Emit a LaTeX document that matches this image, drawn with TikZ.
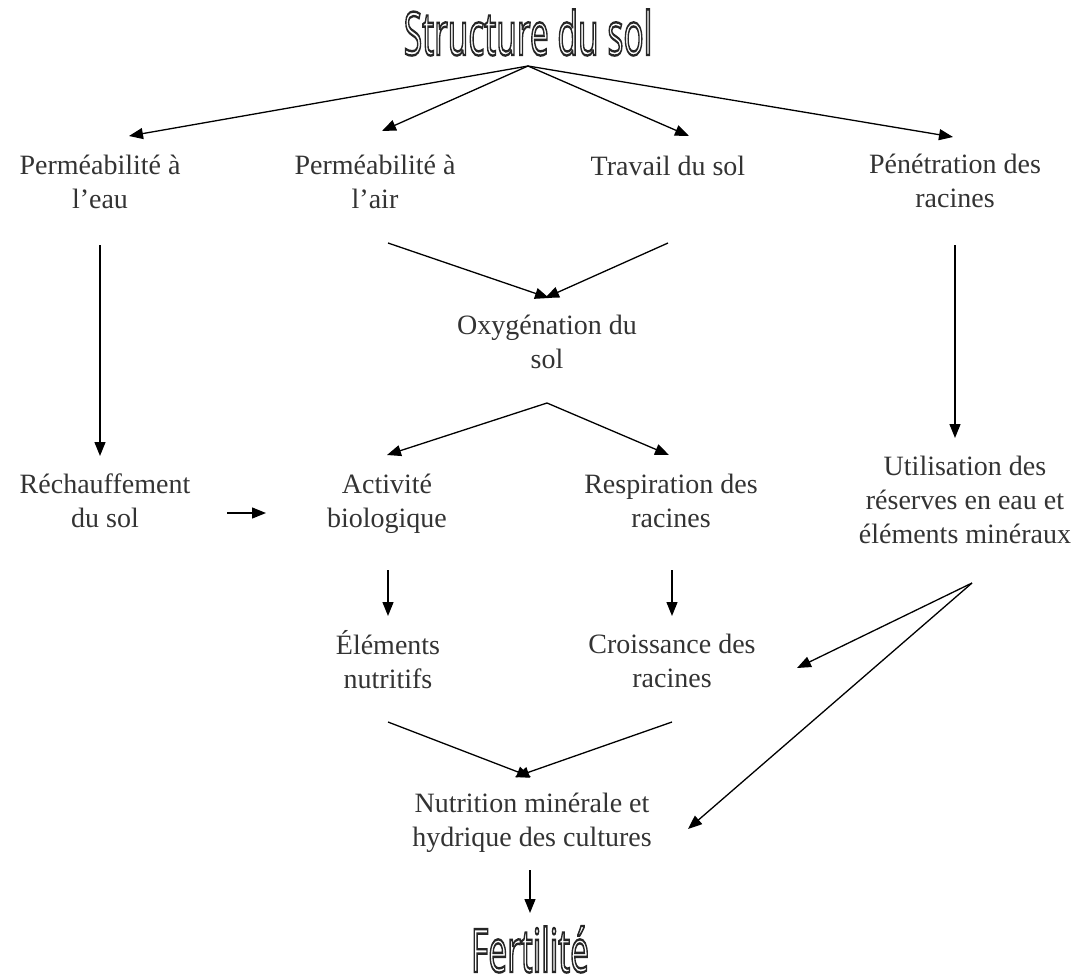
\documentclass[tikz,border=0pt]{standalone}
\usepackage{fontspec}
\setmainfont{Liberation Serif}
\newfontfamily\titlefont{Open Sans}
\usetikzlibrary{arrows.meta}
\definecolor{txt}{RGB}{51,51,51}
\newcommand{\hollowtext}[1]{\special{pdf:literal direct 2.4 w 1 Tr}#1\special{pdf:literal direct 0 Tr}}
\tikzset{
  lbl/.style={align=center, inner sep=0pt, text=txt, font=\fontsize{28}{34}\selectfont},
  ttl/.style={inner sep=0pt, anchor=base, text=black!85, font=\titlefont\fontsize{60}{66}\selectfont},
  arr/.style={line width=1.3pt, -{Triangle[length=14pt,width=11pt]}, shorten >=0pt}
}
\begin{document}
\begin{tikzpicture}[x=1pt,y=-1pt]
\useasboundingbox (0,0) rectangle (1082,980);
% nodes
\node[ttl] (title) at (528,55) {\scalebox{0.56}[1]{\hollowtext{Structure du sol}}};
\node[lbl] (eau) at (100,182) {Perméabilité à\\l’eau};
\node[lbl] (air) at (375,182) {Perméabilité à\\l’air};
\node[lbl,anchor=base] (trav) at (668,175) {Travail du sol};
\node[lbl] (pen) at (955,181) {Pénétration des\\racines};
\node[lbl] (oxy) at (547,342) {Oxygénation du\\sol};
\node[lbl] (rech) at (105,501) {Réchauffement\\du sol};
\node[lbl] (act) at (387,504) {Activité\\biologique};
\node[lbl] (resp) at (671,501) {Respiration des\\racines};
\node[lbl] (util) at (965,500) {Utilisation des\\réserves en eau et\\éléments minéraux};
\node[lbl] (elem) at (388,660) {Éléments\\nutritifs};
\node[lbl] (crois) at (672,661) {Croissance des\\racines};
\node[lbl] (nutri) at (532,823) {Nutrition minérale et\\hydrique des cultures};
\node[ttl] (fert) at (530,972) {\scalebox{0.56}[1]{\hollowtext{Fertilité}}};
% connector end points
\coordinate (tA) at (528,66);
\coordinate (eauT) at (129,136);
\coordinate (airT) at (382,131);
\coordinate (travT) at (689,136);
\coordinate (penT) at (953,137);
\coordinate (eauB) at (100,245);
\coordinate (rechT) at (100,456);
\coordinate (airB) at (388,243);
\coordinate (travB) at (668,243);
\coordinate (oxyL) at (549,298);
\coordinate (oxyR) at (545,298);
\coordinate (penB) at (955,245);
\coordinate (utilT) at (955,438);
\coordinate (oxyB) at (547,403);
\coordinate (actT) at (387,455);
\coordinate (respT) at (669,455);
\coordinate (rechR) at (227,513);
\coordinate (actL) at (266,513);
\coordinate (actB) at (388,570);
\coordinate (elemT) at (388,616);
\coordinate (respB) at (672,570);
\coordinate (croisT) at (672,616);
\coordinate (utilB) at (972,583);
\coordinate (croisR) at (797,668);
\coordinate (nutriR) at (688,829);
\coordinate (elemB) at (388,722);
\coordinate (croisB) at (672,722);
\coordinate (nutriL) at (531,777);
\coordinate (nutriRt) at (515,777);
\coordinate (nutriB) at (530,870);
\coordinate (fertT) at (530,913);
% connectors
\draw[arr] (tA) -- (eauT);
\draw[arr] (tA) -- (airT);
\draw[arr] (tA) -- (travT);
\draw[arr] (tA) -- (penT);
\draw[arr] (eauB) -- (rechT);
\draw[arr] (airB) -- (oxyL);
\draw[arr] (travB) -- (oxyR);
\draw[arr] (penB) -- (utilT);
\draw[arr] (oxyB) -- (actT);
\draw[arr] (oxyB) -- (respT);
\draw[arr] (rechR) -- (actL);
\draw[arr] (actB) -- (elemT);
\draw[arr] (respB) -- (croisT);
\draw[arr] (utilB) -- (croisR);
\draw[arr] (utilB) -- (nutriR);
\draw[arr] (elemB) -- (nutriL);
\draw[arr] (croisB) -- (nutriRt);
\draw[arr] (nutriB) -- (fertT);
\end{tikzpicture}
\end{document}
